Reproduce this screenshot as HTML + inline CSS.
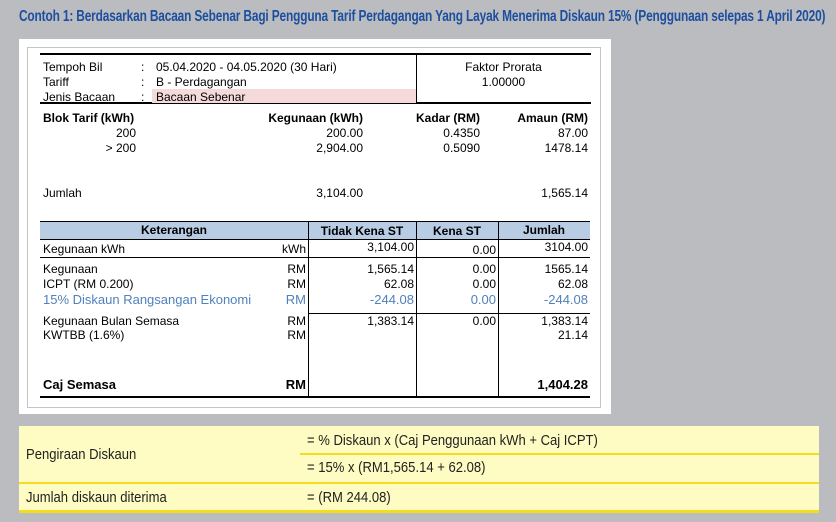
<!DOCTYPE html>
<html><head><meta charset="utf-8"><style>
*{margin:0;padding:0;box-sizing:border-box}
body{width:836px;height:522px;background:#bbbcc0;position:relative;overflow:hidden;font-family:"Liberation Sans",Arial,sans-serif;font-size:12px;color:#000}
.a{position:absolute;white-space:nowrap;line-height:14px}
.r{text-align:right}
.b{font-weight:bold}
.bl{color:#4f81bd}
.h{position:absolute;background:#000;height:1px}
.v{position:absolute;background:#000;width:1px}
.t{position:absolute;white-space:nowrap;font-size:14.5px;line-height:16px;transform:scaleX(0.9);transform-origin:0 0;color:#222}
</style></head><body>
<div class="a b" style="left:19px;top:8px;font-size:16px;line-height:18px;color:#1d4f9e;transform:scaleX(0.743);transform-origin:0 0;letter-spacing:-0.2px">Contoh 1: Berdasarkan Bacaan Sebenar Bagi Pengguna Tarif Perdagangan Yang Layak Menerima Diskaun 15% (Penggunaan selepas 1 April 2020)</div>

<div style="position:absolute;left:19px;top:39px;width:592px;height:375px;background:#fff"></div>
<div style="position:absolute;left:27px;top:47px;width:574px;height:361px;border:1px solid #c4c4c4"></div>

<div class="h" style="left:40px;top:53px;width:551px;height:2px"></div>
<div class="v" style="left:416px;top:53px;height:50px"></div>
<div class="h" style="left:40px;top:102px;width:551px;height:2px"></div>
<div style="position:absolute;left:152px;top:89px;width:264px;height:14px;background:#f5dadb"></div>
<div class="a" style="left:43px;top:60px">Tempoh Bil</div>
<div class="a" style="left:43px;top:75px">Tariff</div>
<div class="a" style="left:43px;top:90px">Jenis Bacaan</div>
<div class="a" style="left:141px;top:60px">:</div>
<div class="a" style="left:141px;top:75px">:</div>
<div class="a" style="left:141px;top:90px">:</div>
<div class="a" style="left:156px;top:60px">05.04.2020 - 04.05.2020 (30 Hari)</div>
<div class="a" style="left:156px;top:75px">B - Perdagangan</div>
<div class="a" style="left:156px;top:90px">Bacaan Sebenar</div>
<div class="a" style="left:416px;width:175px;text-align:center;top:60px">Faktor Prorata</div>
<div class="a" style="left:416px;width:175px;text-align:center;top:75px">1.00000</div>

<div class="a b" style="left:43px;top:111px">Blok Tarif (kWh)</div>
<div class="a b r" style="left:200px;width:163px;top:111px">Kegunaan (kWh)</div>
<div class="a b r" style="left:380px;width:100px;top:111px">Kadar (RM)</div>
<div class="a b r" style="left:488px;width:100px;top:111px">Amaun (RM)</div>
<div class="a r" style="left:80px;width:56px;top:126px">200</div>
<div class="a r" style="left:200px;width:163px;top:126px">200.00</div>
<div class="a r" style="left:380px;width:100px;top:126px">0.4350</div>
<div class="a r" style="left:488px;width:100px;top:126px">87.00</div>
<div class="a r" style="left:80px;width:56px;top:141px">&gt; 200</div>
<div class="a r" style="left:200px;width:163px;top:141px">2,904.00</div>
<div class="a r" style="left:380px;width:100px;top:141px">0.5090</div>
<div class="a r" style="left:488px;width:100px;top:141px">1478.14</div>
<div class="a" style="left:43px;top:186px">Jumlah</div>
<div class="a r" style="left:200px;width:163px;top:186px">3,104.00</div>
<div class="a r" style="left:488px;width:100px;top:186px">1,565.14</div>

<div style="position:absolute;left:40px;top:221px;width:550px;height:18px;background:#b8cce4"></div>
<div class="h" style="left:40px;top:221px;width:550px"></div>
<div class="h" style="left:40px;top:239px;width:550px"></div>
<div class="v" style="left:308px;top:221px;height:176px"></div>
<div class="v" style="left:416px;top:221px;height:176px"></div>
<div class="v" style="left:498px;top:221px;height:176px"></div>
<div class="h" style="left:40px;top:257px;width:550px"></div>
<div class="h" style="left:308px;top:313px;width:282px"></div>
<div class="h" style="left:40px;top:396px;width:550px;height:2px"></div>
<div class="a b" style="left:40px;width:268px;text-align:center;top:223px">Keterangan</div>
<div class="a b" style="left:308px;width:108px;text-align:center;top:224px">Tidak Kena ST</div>
<div class="a b" style="left:416px;width:82px;text-align:center;top:224px">Kena ST</div>
<div class="a b" style="left:498px;width:92px;text-align:center;top:223px">Jumlah</div>

<div class="a" style="left:43px;top:242px">Kegunaan kWh</div>
<div class="a r" style="left:260px;width:46px;top:242px">kWh</div>
<div class="a r" style="left:308px;width:106px;top:240px">3,104.00</div>
<div class="a r" style="left:416px;width:80px;top:243px">0.00</div>
<div class="a r" style="left:498px;width:90px;top:240px">3104.00</div>

<div class="a" style="left:43px;top:262px">Kegunaan</div>
<div class="a r" style="left:260px;width:46px;top:262px">RM</div>
<div class="a r" style="left:308px;width:106px;top:262px">1,565.14</div>
<div class="a r" style="left:416px;width:80px;top:262px">0.00</div>
<div class="a r" style="left:498px;width:90px;top:262px">1565.14</div>
<div class="a" style="left:43px;top:277px">ICPT (RM 0.200)</div>
<div class="a r" style="left:260px;width:46px;top:277px">RM</div>
<div class="a r" style="left:308px;width:106px;top:277px">62.08</div>
<div class="a r" style="left:416px;width:80px;top:277px">0.00</div>
<div class="a r" style="left:498px;width:90px;top:277px">62.08</div>
<div class="a bl" style="left:43px;top:293px;font-size:13px">15% Diskaun Rangsangan Ekonomi</div>
<div class="a r bl" style="left:260px;width:46px;top:293px;font-size:13px">RM</div>
<div class="a r bl" style="left:308px;width:106px;top:293px;font-size:13px">-244.08</div>
<div class="a r bl" style="left:416px;width:80px;top:293px;font-size:13px">0.00</div>
<div class="a r bl" style="left:498px;width:90px;top:293px;font-size:13px">-244.08</div>

<div class="a" style="left:43px;top:314px">Kegunaan Bulan Semasa</div>
<div class="a r" style="left:260px;width:46px;top:314px">RM</div>
<div class="a r" style="left:308px;width:106px;top:314px">1,383.14</div>
<div class="a r" style="left:416px;width:80px;top:314px">0.00</div>
<div class="a r" style="left:498px;width:90px;top:314px">1,383.14</div>
<div class="a" style="left:43px;top:328px">KWTBB (1.6%)</div>
<div class="a r" style="left:260px;width:46px;top:328px">RM</div>
<div class="a r" style="left:498px;width:90px;top:328px">21.14</div>
<div class="a b" style="left:43px;top:378px;font-size:13px">Caj Semasa</div>
<div class="a b r" style="left:260px;width:46px;top:378px;font-size:13px">RM</div>
<div class="a b r" style="left:498px;width:90px;top:378px;font-size:13px">1,404.28</div>

<div style="position:absolute;left:19px;top:426px;width:800px;height:86px;background:#fefcc2"></div>
<div style="position:absolute;left:300px;top:453px;width:519px;height:2px;background:#f4dc1e"></div>
<div style="position:absolute;left:19px;top:482px;width:800px;height:2px;background:#f4dc1e"></div>
<div style="position:absolute;left:19px;top:510px;width:800px;height:3px;background:#f4dc1e"></div>
<div class="t" style="left:26px;top:447px">Pengiraan Diskaun</div>
<div class="t" style="left:307px;top:433px">= % Diskaun x (Caj Penggunaan kWh + Caj ICPT)</div>
<div class="t" style="left:307px;top:460px">= 15% x (RM1,565.14 + 62.08)</div>
<div class="t" style="left:26px;top:490px">Jumlah diskaun diterima</div>
<div class="t" style="left:307px;top:490px">= (RM 244.08)</div>
</body></html>
